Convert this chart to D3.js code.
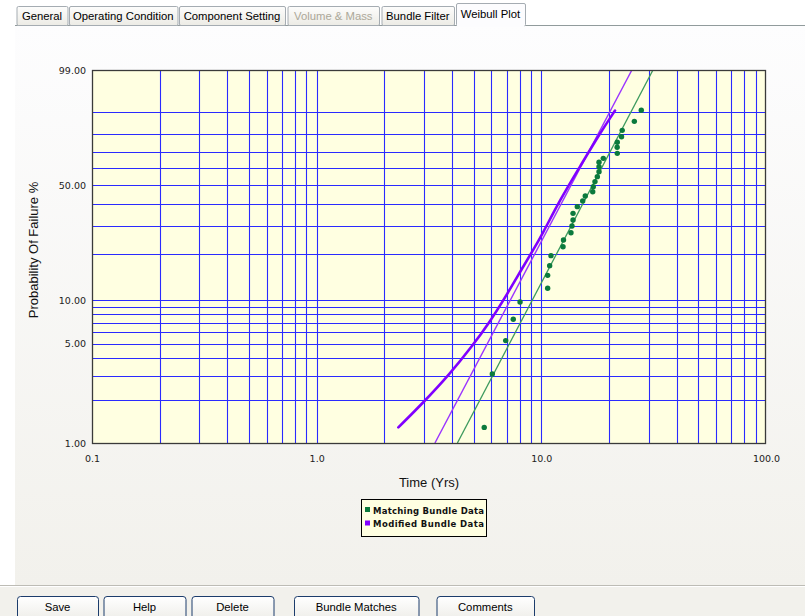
<!DOCTYPE html>
<html><head><meta charset="utf-8">
<script src="https://cdn.jsdelivr.net/npm/d3@7"></script>
<style>body{margin:0;background:#fff;overflow:hidden} svg{display:block}</style>
</head><body><svg id="c" width="805" height="616"></svg>
<script>
// ---------- data ----------
const tabs = ["General","Operating Condition","Component Setting","Volume & Mass","Bundle Filter","Weibull Plot"];
const xLabels = [0.1, 1, 10, 100];
const yLabels = [1, 5, 10, 50, 99];
const yGrid = [2,3,4,5,6,7,8,9,10,20,30,40,50,60,70,80,90];
// Matching Bundle Data (time in years, probability of failure %)
const matchT = [5.57,6.05,6.94,7.50,8.04,10.67,10.67,10.89,11.04,12.49,12.55,13.55,13.69,13.84,13.84,14.46,15.28,15.69,16.93,17.03,17.33,17.75,18.06,18.06,18.06,18.87,21.78,21.75,21.78,22.75,22.91,25.94,27.86];
const matchF = [1.29,3.08,5.26,7.38,9.69,11.98,14.6,16.9,19.6,22.3,24.6,27.2,29.9,32.4,35.4,38.6,41.5,44.1,46.4,49.2,52.1,55.0,57.9,61.0,63.6,66.0,69.0,72.6,75.5,78.5,81.9,86.2,90.7];
// Matching fit line
const matchFitT = [4.23, 31.4];
const matchFitF = [1, 99];
// Modified Bundle Data curve
const modT = [2.31,2.98,3.92,4.90,5.91,7.01,8.25,9.20,10.15,12.1,14.86,18.24,21.28];
const modF = [1.29,1.93,3.08,4.77,7.11,10.8,16.4,21.3,27.0,42.0,61.0,80.4,90.6];
// Modified fit line
const modFitT = [3.36, 25.3];
const modFitF = [1, 99];
const legendLabels = ["Matching Bundle Data","Modified Bundle Data"];
const buttons = ["Save","Help","Delete","Bundle Matches","Comments"];

// ---------- layout ----------
const svg = d3.select("#c");
const L = 92, R = 766, T = 70, B = 443;
const green = "#0b7a3c", greenLine = "#3d9a5e", purple = "#8000ff", purpleThin = "#9a33ff";
const defs = svg.append("defs");
const pg = defs.append("linearGradient").attr("id","pg").attr("x1",0).attr("y1",0).attr("x2",0).attr("y2",1);
pg.append("stop").attr("offset","0%").attr("stop-color","#fdfdfe");
pg.append("stop").attr("offset","100%").attr("stop-color","#f2f1ec");
const tg = defs.append("linearGradient").attr("id","tg").attr("x1",0).attr("y1",0).attr("x2",0).attr("y2",1);
tg.append("stop").attr("offset","0%").attr("stop-color","#fdfdfc");
tg.append("stop").attr("offset","100%").attr("stop-color","#ecebe5");
const bg = defs.append("linearGradient").attr("id","bg").attr("x1",0).attr("y1",0).attr("x2",0).attr("y2",1);
bg.append("stop").attr("offset","0%").attr("stop-color","#ffffff");
bg.append("stop").attr("offset","100%").attr("stop-color","#ecebe6");

svg.append("rect").attr("width",805).attr("height",616).attr("fill","#fff");
svg.append("rect").attr("x",15).attr("y",25).attr("width",790).attr("height",560).attr("fill","url(#pg)");
svg.append("line").attr("x1",15).attr("x2",805).attr("y1",25.5).attr("y2",25.5).attr("stroke","#919b9c");
svg.append("rect").attr("x",0).attr("y",585).attr("width",805).attr("height",31).attr("fill","#f2f1ec");
svg.append("line").attr("x1",0).attr("x2",805).attr("y1",585.5).attr("y2",585.5).attr("stroke","#bdbcb5");
svg.append("line").attr("x1",0).attr("x2",805).attr("y1",586.5).attr("y2",586.5).attr("stroke","#ffffff");

// tabs
const tabX = [[16.5,67.5],[69,177.5],[179,285],[287.5,379],[381.5,454],[456,525]];
tabs.forEach((t,i)=>{
  const sel = i === tabs.length-1;
  const [a,b] = tabX[i];
  const g = svg.append("g");
  g.append("rect").attr("x",a+0.5).attr("y",sel?3.5:6.5).attr("width",b-a).attr("height",sel?22.5:19)
    .attr("fill",sel?"#fcfcfe":"url(#tg)").attr("stroke","#a5acb2").attr("rx",1.5);
  g.append("text").attr("x",(a+b)/2).attr("y",sel?18:20).attr("text-anchor","middle")
    .attr("font-family","Liberation Sans, Arial, sans-serif").attr("font-size",11.3)
    .attr("fill", i===3 ? "#aca899" : "#000").text(t);
});
svg.append("rect").attr("x",457).attr("y",24).attr("width",67.5).attr("height",3).attr("fill","#fcfcfe");

// scales
const wb = p => Math.log(-Math.log(1 - p/100));
const x = d3.scaleLog().domain([0.1,100]).range([L,R]);
const yw = d3.scaleLinear().domain([wb(1), wb(99)]).range([B,T]);
const y = p => yw(wb(p));

// plot background
svg.append("rect").attr("x",L).attr("y",T).attr("width",R-L).attr("height",B-T).attr("fill","#ffffe1");

// grid
const grid = svg.append("g").attr("stroke","#2a2aff").attr("stroke-width",1.1);
x.ticks().filter(v => v > 0.1001 && v < 99.9).forEach(v=>{
  const px = Math.round(x(v)) + 0.5;
  grid.append("line").attr("x1",px).attr("x2",px).attr("y1",T).attr("y2",B);
});
yGrid.forEach(v=>{
  const py = Math.round(y(v)) + 0.5;
  grid.append("line").attr("x1",L).attr("x2",R).attr("y1",py).attr("y2",py);
});

// clip
defs.append("clipPath").attr("id","clip").append("rect").attr("x",L).attr("y",T).attr("width",R-L).attr("height",B-T);
const plot = svg.append("g").attr("clip-path","url(#clip)");
const line = d3.line().x(d=>x(d[0])).y(d=>y(d[1]));
const curve = d3.line().x(d=>x(d[0])).y(d=>y(d[1])).curve(d3.curveBasis);

plot.append("path").attr("d", line(modFitT.map((t,i)=>[t,modFitF[i]])))
  .attr("fill","none").attr("stroke",purpleThin).attr("stroke-width",1.4);
plot.append("path").attr("d", curve(modT.map((t,i)=>[t,modF[i]])))
  .attr("fill","none").attr("stroke",purple).attr("stroke-width",2.6).attr("stroke-linecap","round");
plot.append("path").attr("d", line(matchFitT.map((t,i)=>[t,matchFitF[i]])))
  .attr("fill","none").attr("stroke",greenLine).attr("stroke-width",1.3);
plot.selectAll("circle.m").data(matchT.map((t,i)=>[t,matchF[i]])).enter().append("circle")
  .attr("cx",d=>x(d[0])).attr("cy",d=>y(d[1])).attr("r",2.7).attr("fill",green);

// border
svg.append("rect").attr("x",L+0.5).attr("y",T+0.5).attr("width",R-L-1).attr("height",B-T)
  .attr("fill","none").attr("stroke","#3a3a3a").attr("stroke-width",1.3);

// axes
const xa = svg.append("g").attr("transform",`translate(0,${B})`)
  .call(d3.axisBottom(x).tickValues(xLabels).tickSize(0).tickPadding(12).tickFormat(d3.format(".1f")));
const ya = svg.append("g").attr("transform",`translate(${L-6},0)`)
  .call(d3.axisLeft(yw).tickValues(yLabels.map(wb)).tickSize(0).tickPadding(0)
    .tickFormat((d,i)=>d3.format(".2f")(yLabels[i])));
[xa,ya].forEach(a=>{
  a.select(".domain").remove();
  a.selectAll("text").attr("font-family","DejaVu Sans, Verdana, sans-serif").attr("font-size",9.5).attr("fill","#222");
});

svg.append("text").attr("x",(L+R)/2).attr("y",487).attr("text-anchor","middle")
  .attr("font-family","Liberation Sans, Arial, sans-serif").attr("font-size",13).attr("fill","#111").text("Time (Yrs)");
svg.append("text").attr("transform","translate(38,250) rotate(-90)").attr("text-anchor","middle")
  .attr("font-family","Liberation Sans, Arial, sans-serif").attr("font-size",13).attr("fill","#111").text("Probability Of Failure %");

// legend
const lg = svg.append("g");
lg.append("rect").attr("x",361.5).attr("y",499.5).attr("width",125).attr("height",37).attr("fill","#ffffe1").attr("stroke","#000");
const lc = [green, purple];
legendLabels.forEach((t,i)=>{
  const yy = 510 + i*13.5;
  lg.append("rect").attr("x",365).attr("y",yy-3).attr("width",5).attr("height",5).attr("fill",lc[i]);
  lg.append("text").attr("x",373).attr("y",yy+3.5).attr("font-family","DejaVu Sans, Verdana, sans-serif")
    .attr("font-size",8.5).attr("font-weight","bold").attr("fill","#111")
    .attr("textLength",111).attr("lengthAdjust","spacing").text(t);
});

// buttons
const btnX = [[17,98],[103.5,185.5],[191.5,273.5],[294,418.5],[436.5,534]];
buttons.forEach((b,i)=>{
  const [a,c] = btnX[i];
  svg.append("rect").attr("x",a+0.5).attr("y",596.5).attr("width",c-a).attr("height",26).attr("rx",3)
    .attr("fill","url(#bg)").attr("stroke","#1c3c6c");
  svg.append("text").attr("x",(a+c)/2).attr("y",611).attr("text-anchor","middle")
    .attr("font-family","Liberation Sans, Arial, sans-serif").attr("font-size",11.3).attr("fill","#000").text(b);
});
</script></body></html>
